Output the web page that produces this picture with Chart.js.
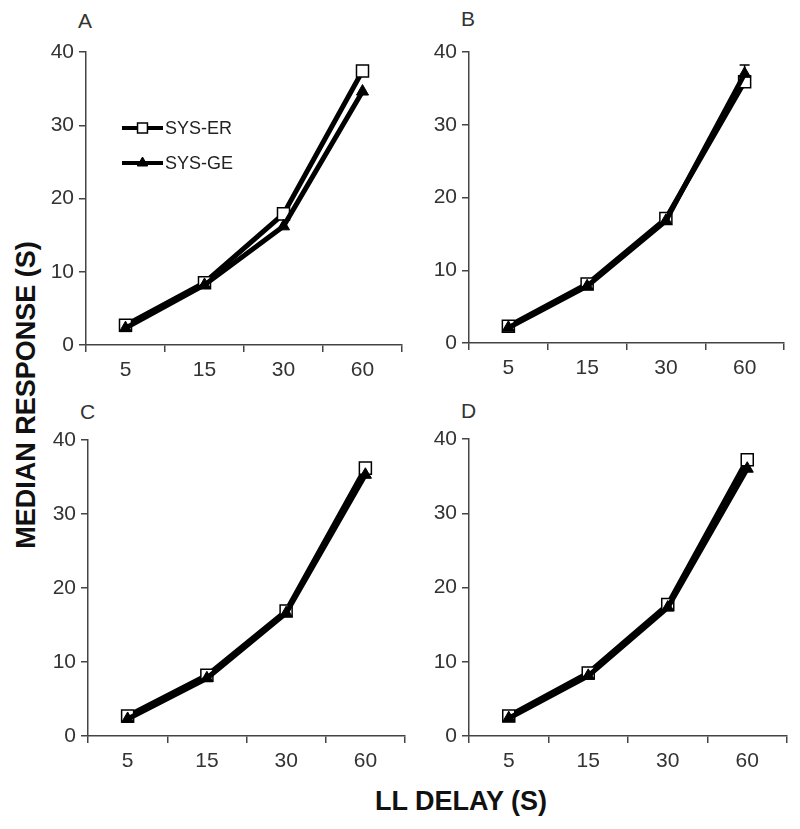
<!DOCTYPE html>
<html lang="en">
<head>
<meta charset="UTF-8">
<title>Median response by LL delay</title>
<script src="https://cdn.jsdelivr.net/npm/chart.js@4.4.1/dist/chart.umd.min.js"></script>
<style>
  body { margin: 0; background: #fff; }
  #wrap { position: relative; width: 800px; height: 829px; overflow: hidden; font-family: "Liberation Sans", Arial, sans-serif; }
  #wrap canvas { position: absolute; }
  .letter { position: absolute; font-size: 21px; color: #333; }
  #ytitle { position: absolute; left: 26px; top: 395px; transform: translate(-50%, -50%) rotate(-90deg); font-weight: bold; font-size: 27px; white-space: nowrap; color: #111; }
  #xtitle { position: absolute; left: 461px; top: 801px; transform: translate(-50%, -50%); font-weight: bold; font-size: 27px; white-space: nowrap; color: #111; }
</style>
</head>
<body>
<div id="wrap">
  <div class="letter" style="left:78px;top:9px">A</div>
  <div class="letter" style="left:461px;top:7px">B</div>
  <div class="letter" style="left:80px;top:400px">C</div>
  <div class="letter" style="left:461px;top:399px">D</div>
  <div id="ytitle">MEDIAN RESPONSE (S)</div>
  <div id="xtitle">LL DELAY (S)</div>
</div>
<script>
// data
var delays = ['5', '15', '30', '60'];
var yTicks = [0, 10, 20, 30, 40];

var erA = [2.7, 8.5, 17.9, 37.4];
var geA = [2.3, 8.2, 16.2, 34.6];
var erB = [2.3, 8.1, 17.1, 35.9];
var geB = [2.1, 7.8, 16.8, 37.0];
var erC = [2.7, 8.2, 16.9, 36.2];
var geC = [2.3, 7.8, 16.6, 35.3];
var erD = [2.7, 8.5, 17.7, 37.2];
var geD = [2.4, 8.1, 17.3, 36.0];

// upper error bars (only the one poking out in B is visible)
var errB_GE = [0, 0, 0, 1.2];

// plot-area boxes for each panel (left, top, right, bottom)
var panels = [
  { id: 'A', box: [86, 52, 402, 345], er: erA, ge: geA, legend: true },
  { id: 'B', box: [469, 52, 784, 343], er: erB, ge: geB, geErr: errB_GE },
  { id: 'C', box: [88, 440, 405, 736], er: erC, ge: geC },
  { id: 'D', box: [469, 439, 787, 736], er: erD, ge: geD }
];

var YW = 86, XH = 50, PT = 20, PR = 12;

var errorBars = {
  id: 'errorBars',
  afterDatasetsDraw(chart) {
    var ctx = chart.ctx, y = chart.scales.y;
    chart.data.datasets.forEach(function (ds, di) {
      if (!ds.errUp) return;
      var meta = chart.getDatasetMeta(di);
      meta.data.forEach(function (pt, i) {
        var e = ds.errUp[i];
        if (!e) return;
        var top = y.getPixelForValue(ds.data[i] + e);
        ctx.save();
        ctx.strokeStyle = '#000';
        ctx.lineWidth = 1.5;
        ctx.beginPath();
        ctx.moveTo(pt.x, pt.y);
        ctx.lineTo(pt.x, top);
        ctx.moveTo(pt.x - 5, top);
        ctx.lineTo(pt.x + 5, top);
        ctx.stroke();
        ctx.restore();
      });
    });
  }
};

var insideLegend = {
  id: 'insideLegend',
  afterDraw(chart, args, opts) {
    if (!opts.show) return;
    var ctx = chart.ctx, a = chart.chartArea;
    var order = [1, 0]; // SYS-ER first, SYS-GE second
    order.forEach(function (di, k) {
      var ds = chart.data.datasets[di];
      var x0 = a.left + 36, x1 = a.left + 77, yy = a.top + 76 + k * 35;
      ctx.save();
      ctx.strokeStyle = '#000';
      ctx.lineWidth = 4;
      ctx.beginPath();
      ctx.moveTo(x0, yy);
      ctx.lineTo(x1, yy);
      ctx.stroke();
      ctx.fillStyle = ds.pointBackgroundColor;
      ctx.strokeStyle = '#000';
      ctx.lineWidth = ds.pointBorderWidth;
      Chart.helpers.drawPoint(ctx, {
        pointStyle: ds.pointStyle,
        radius: ds.pointStyle === 'rect' ? 7 : 6,
        borderWidth: ds.pointBorderWidth
      }, (x0 + x1) / 2, yy);
      ctx.restore();
      ctx.save();
      ctx.font = '18px "Liberation Sans", Arial, sans-serif';
      ctx.fillStyle = '#222';
      ctx.textBaseline = 'middle';
      ctx.fillText(ds.label, x1 + 2, yy + 1);
      ctx.restore();
    });
  }
};

var wrap = document.getElementById('wrap');

panels.forEach(function (p) {
  var L = p.box[0], T = p.box[1], R = p.box[2], B = p.box[3];
  var cv = document.createElement('canvas');
  var w = (R - L) + YW + PR, h = (B - T) + PT + XH;
  cv.width = w; cv.height = h;
  cv.style.left = (L - YW) + 'px';
  cv.style.top = (T - PT) + 'px';
  cv.style.width = w + 'px';
  cv.style.height = h + 'px';
  wrap.appendChild(cv);

  var tickFont = { family: '"Liberation Sans", Arial, sans-serif', size: 21 };

  new Chart(cv, {
    type: 'line',
    data: {
      labels: delays,
      datasets: [
        {
          label: 'SYS-GE',
          data: p.ge,
          errUp: p.geErr,
          borderColor: '#000',
          borderWidth: 5,
          pointStyle: 'triangle',
          pointRadius: 7,
          pointBackgroundColor: '#000',
          pointBorderColor: '#000',
          pointBorderWidth: 1,
          tension: 0
        },
        {
          label: 'SYS-ER',
          data: p.er,
          borderColor: '#000',
          borderWidth: 5,
          pointStyle: 'rect',
          pointRadius: 8.5,
          pointBackgroundColor: '#fff',
          pointBorderColor: '#000',
          pointBorderWidth: 1.5,
          tension: 0
        }
      ]
    },
    options: {
      responsive: false,
      animation: false,
      devicePixelRatio: 1,
      layout: { padding: { top: PT, right: PR, left: 0, bottom: 0 } },
      plugins: {
        legend: { display: false },
        tooltip: { enabled: false },
        insideLegend: { show: !!p.legend }
      },
      scales: {
        x: {
          type: 'category',
          offset: true,
          grid: { display: true, offset: true, drawOnChartArea: false, tickLength: 7, color: '#444', lineWidth: 1.5 },
          border: { display: true, color: '#444', width: 1.5 },
          ticks: { color: '#333', font: tickFont, padding: 6, maxRotation: 0 },
          afterFit: function (s) { s.height = XH; }
        },
        y: {
          min: 0,
          max: 40,
          afterBuildTicks: function (s) { s.ticks = yTicks.map(function (v) { return { value: v }; }); },
          grid: { display: true, drawOnChartArea: false, tickLength: 7, color: '#444', lineWidth: 1.5 },
          border: { display: true, color: '#444', width: 1.5 },
          ticks: { color: '#333', font: tickFont, padding: 5 },
          afterFit: function (s) { s.width = YW; }
        }
      }
    },
    plugins: [errorBars, insideLegend]
  });
});
</script>
</body>
</html>
